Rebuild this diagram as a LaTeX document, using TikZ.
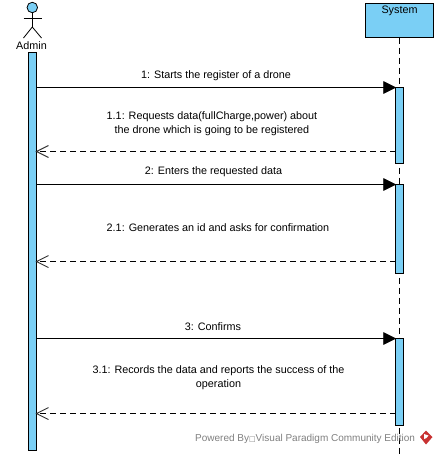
\documentclass[tikz,border=0pt]{standalone}
\usepackage{fontspec}
\usetikzlibrary{calc}
\setmainfont{Liberation Sans}
\newfontfamily\symfont{DejaVu Sans}
\definecolor{vpblue}{RGB}{122,207,245}
\definecolor{wmgray}{RGB}{128,128,128}
\definecolor{vpred}{RGB}{200,50,50}
\tikzset{
  x=1pt,y=-1pt,
  fill box/.style={draw=black,fill=vpblue,line width=1pt,inner sep=0pt,outer sep=0pt,rectangle},
  lifeline/.style={draw=black,line width=0.9pt,dash pattern=on 6pt off 4pt},
  call/.style={draw=black,line width=0.9pt},
  reply/.style={draw=black,line width=0.9pt,dash pattern=on 6pt off 4pt},
  msg/.style={font=\fontsize{10.8}{14}\selectfont,align=center,inner sep=0pt,anchor=center},
  solidhead/.style={fill=black,draw=black,line width=0.5pt},
  openhead/.style={draw=black!80,line width=0.9pt},
  stick/.style={draw=black,line width=0.8pt},
}
\begin{document}
\begin{tikzpicture}
\useasboundingbox (0,0) rectangle (439,455);
\fill[white] (0,0) rectangle (439,455);
% lifeline
\node[fill box,minimum width=68pt,minimum height=34pt,anchor=north west] (sys) at (365.5,3.5) {};
\node[font=\fontsize{10.8}{11}\selectfont,inner sep=0pt] (systxt) at (399.5,10.5) {System};
\coordinate (sysend) at (399.5,455);
\draw[lifeline] (sys.south) -- (sysend);
% actor
\node[circle,draw=black,fill=vpblue,line width=0.8pt,minimum size=10.5pt,inner sep=0pt] (head) at (32.3,7.5) {};
\coordinate (hip) at (32.3,27);
\coordinate (armL) at (23.5,18);
\coordinate (armR) at (41.5,18);
\coordinate (legL) at (23.5,38);
\coordinate (legR) at (41.5,38);
\draw[stick] (head.south) -- (hip);
\draw[stick] (armL) -- (armR);
\draw[stick] (legL) -- (hip) -- (legR);
\node[font=\fontsize{10.8}{11}\selectfont,inner sep=0pt] (admin) at (31.5,45.5) {Admin};
% activations
\node[fill box,minimum width=8pt,minimum height=398pt,anchor=north west] (aA) at (28.5,52.5) {};
\node[fill box,minimum width=8pt,minimum height=76pt,anchor=north west] (s1) at (395.5,87.5) {};
\node[fill box,minimum width=8pt,minimum height=89pt,anchor=north west] (s2) at (395.5,184.5) {};
\node[fill box,minimum width=8pt,minimum height=87pt,anchor=north west] (s3) at (395.5,338.5) {};
% connectors
\foreach \yy/\nm in {87.5/s1,184.5/s2,338.5/s3}{
  \coordinate (from) at (aA.east |- 0,\yy);
  \coordinate (to) at (\nm.north west);
  \draw[call] (from) -- (to);
  \fill[solidhead] (to) -- ++(-12,-6) -- ++(0,12) -- cycle;
}
\foreach \yy/\nm in {151.5/s1,261.5/s2,413.5/s3}{
  \coordinate (from) at (\nm.west |- 0,\yy);
  \coordinate (to) at (aA.east |- 0,\yy);
  \draw[reply] (from) -- (to);
  \draw[openhead] ($(to)+(12,-6)$) -- (to) -- ($(to)+(12,6)$);
}
% labels
\node[msg] (m1) at (216,75.5) {1: Starts the register of a drone};
\node[msg] (m2) at (212,123.5) {1.1: Requests data(fullCharge,power) about\\the drone which is going to be registered};
\node[msg] (m3) at (213.5,171.5) {2: Enters the requested data};
\node[msg] (m4) at (218,227.5) {2.1: Generates an id and asks for confirmation};
\node[msg] (m5) at (213,326.5) {3: Confirms};
\node[msg] (m6) at (218.5,377.5) {3.1: Records the data and reports the success of the\\operation};
% watermark
\node[font=\fontsize{10}{11}\selectfont,text=wmgray,inner sep=0pt,anchor=west] (wm) at (195,438.5) {Powered By{\symfont\fontsize{7}{11}\selectfont □}Visual Paradigm Community Edition};
\fill[vpred] (426,430.5) -- (432.5,437) -- (426,444.5) -- (420,437) -- cycle;
\fill[white] (424,434) -- (428.5,435.5) -- (426.5,438) -- (424,439) -- cycle;
\end{tikzpicture}
\end{document}
